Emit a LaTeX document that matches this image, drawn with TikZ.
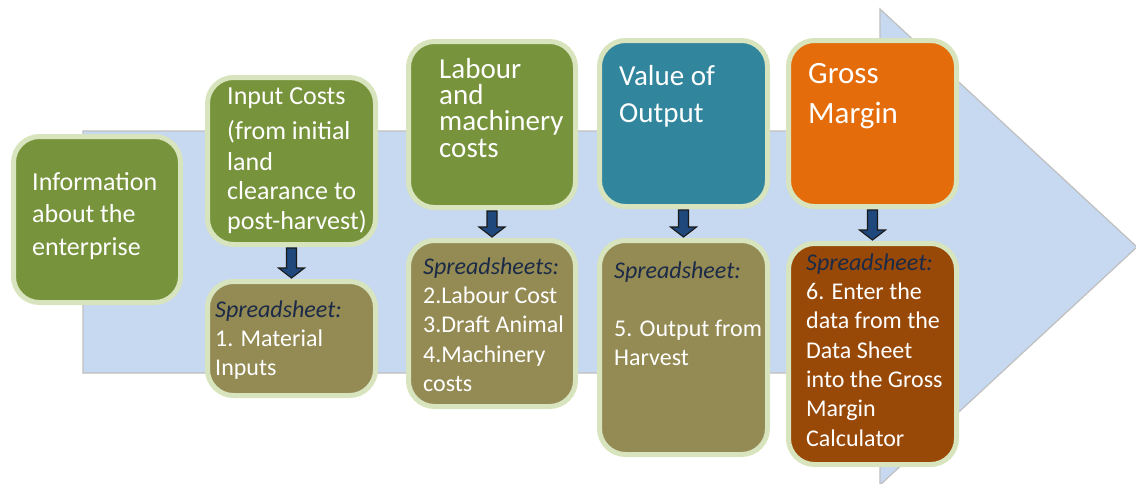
\documentclass[tikz,border=0pt]{standalone}
\usepackage{fontspec}
\setmainfont{Carlito}
\usetikzlibrary{calc}
\definecolor{bgblue}{HTML}{C6D9F1}
\definecolor{bgline}{HTML}{BFBFBF}
\definecolor{bordergreen}{HTML}{D7E4BD}
\definecolor{nodegreen}{HTML}{77933C}
\definecolor{nodeolive}{HTML}{948A54}
\definecolor{nodeteal}{HTML}{31859C}
\definecolor{nodeorange}{HTML}{E46C0A}
\definecolor{nodebrown}{HTML}{984807}
\definecolor{sstext}{HTML}{1B2A47}
\definecolor{arrowblue}{HTML}{1F497D}
\newcommand\tstrut{\rule{0pt}{25pt}}
\newcommand\sshead[1]{\textcolor{sstext}{\itshape #1}}
\begin{document}
\begin{tikzpicture}[x=1pt,y=-1pt,
  box/.style={draw=bordergreen, line width=5pt, rounded corners=26pt, inner sep=0pt},
  txt/.style={text=white, inner sep=0pt, anchor=north west, align=left},
  barrow/.style={fill=arrowblue, draw=black!90, line width=1.1pt, line join=miter}]
\useasboundingbox (0,0) rectangle (1136,483);
% background big arrow
\draw[fill=bgblue, draw=bgline, line width=1.2pt]
  (83,131) -- (880,131) -- (880,9) -- (1137,247) -- (880,485) -- (880,373) -- (83,373) -- cycle;
% boxes
\node[box, fill=nodegreen, minimum width=167pt, minimum height=166pt] (b1) at (97,219.5) {};
\node[box, fill=nodegreen, minimum width=168pt, minimum height=167pt] (b2) at (291.5,161) {};
\node[box, fill=nodeolive, minimum width=168pt, minimum height=114pt] (b3) at (291.5,338.5) {};
\node[box, fill=nodegreen, minimum width=167pt, minimum height=166pt] (b4) at (492,124.5) {};
\node[box, fill=nodeolive, minimum width=167pt, minimum height=166pt] (b5) at (492,323.5) {};
\node[box, fill=nodeteal, minimum width=168pt, minimum height=166pt] (b6) at (683.5,123.5) {};
\node[box, fill=nodeolive, minimum width=168pt, minimum height=214pt] (b7) at (683.5,347.5) {};
\node[box, fill=nodeorange, minimum width=168pt, minimum height=166pt] (b8) at (872.5,123.5) {};
\node[box, fill=nodebrown, minimum width=168pt, minimum height=221pt] (b9) at (872.5,354) {};
% texts
\node[txt, font=\fontsize{26}{32.5}\selectfont] (t1) at (32,165) {\tstrut Information\\about the\\enterprise};
\node[txt, font=\fontsize{26}{29.5}\selectfont] (t2) at (227,79) {\tstrut Input Costs\\[5.5pt](from initial\\[1.5pt]land\\clearance to\\post-harvest)};
\node[txt, font=\fontsize{24}{29}\selectfont] (t3) at (215,292) {\tstrut\sshead{Spreadsheet:}\\1. Material\\Inputs};
\node[txt, font=\fontsize{29}{26.3}\selectfont] (t4) at (439,53) {\tstrut Labour\\and\\machinery\\costs};
\node[txt, font=\fontsize{24}{29.3}\selectfont] (t5) at (423,249) {\tstrut\sshead{Spreadsheets:}\\2.Labour Cost\\3.Draft Animal\\4.Machinery\\costs};
\node[txt, font=\fontsize{29}{37}\selectfont] (t6) at (619,60) {\tstrut Value of\\Output};
\node[txt, font=\fontsize{24}{29}\selectfont] (t7) at (614,253) {\tstrut\sshead{Spreadsheet:}\\[29pt]5. Output from\\Harvest};
\node[txt, font=\fontsize{31}{40}\selectfont] (t8) at (808,58) {\tstrut Gross\\Margin};
\node[txt, font=\fontsize{24}{29.3}\selectfont] (t9) at (806,245) {\tstrut\sshead{Spreadsheet:}\\6. Enter the\\data from the\\Data Sheet\\into the Gross\\Margin\\Calculator};
% block arrows
\foreach \a/\b in {b2/b3, b4/b5, b6/b7, b8/b9}{
  \draw[barrow] ($(\a.south)+(-5,1)$) -- ($(\b.north)+(-5,-11)$) -- ++(-8,0) -- ($(\b.north)+(0,-1)$)
    -- ($(\b.north)+(13,-11)$) -- ++(-8,0) -- ($(\a.south)+(5,1)$) -- cycle;
}
\end{tikzpicture}
\end{document}
